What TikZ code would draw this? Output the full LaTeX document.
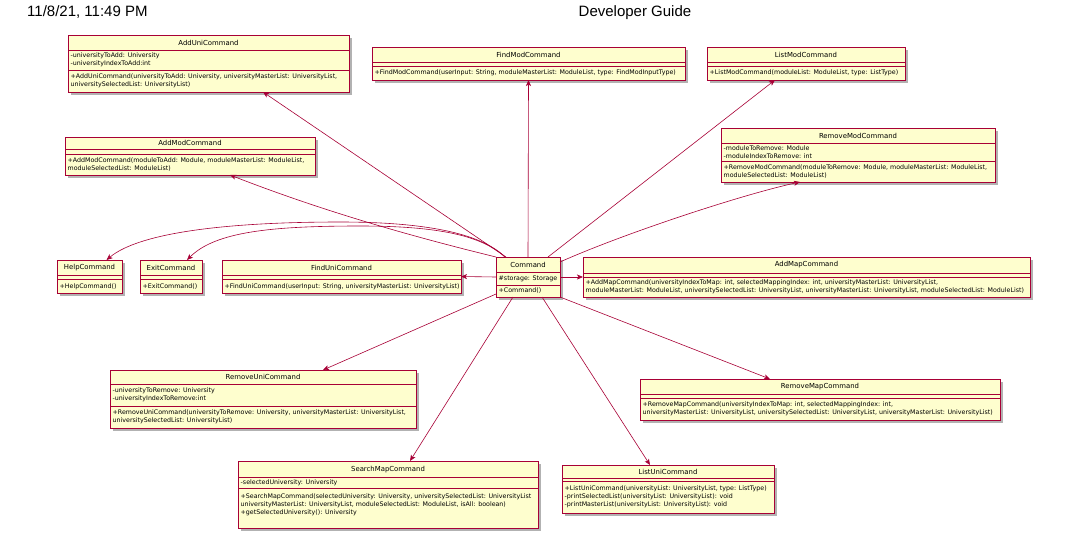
\documentclass[tikz,border=0pt]{standalone}
\usepackage{fontspec}
\setmainfont{Liberation Sans}
\newfontfamily\umlfont{DejaVu Sans}
\usetikzlibrary{arrows.meta,shadows,fit}
\definecolor{umlred}{HTML}{A80036}
\definecolor{umlfill}{HTML}{FEFECE}
\tikzset{
  cls/.style={draw=umlred, fill=umlfill, line width=0.8pt, rectangle, inner sep=0pt, outer sep=0pt,
    drop shadow={shadow xshift=2.5pt, shadow yshift=-2.5pt, fill=black, opacity=0.3}},
  ttl/.style={font=\umlfont\fontsize{6.9}{8}\selectfont, inner sep=0pt},
  mem/.style={font=\umlfont\fontsize{6.3}{8}\selectfont, anchor=west, align=left, inner sep=0pt},
  divl/.style={draw=umlred, line width=0.8pt},
  conn/.style={draw=umlred, line width=0.6pt, -{Stealth[length=6pt,width=5pt,inset=1.5pt]}},
  hdr/.style={font=\fontsize{15}{15}\selectfont, inner sep=0pt}
}
\begin{document}
\begin{tikzpicture}[x=1pt,y=-1pt]
\fill[white] (0,0) rectangle (1073,555);
\useasboundingbox (0,0) rectangle (1073,555);

% header
\node[hdr, anchor=west] (date) at (27,12.5) {11/8/21, 11:49 PM};
\node[hdr] (doctitle) at (635,12.5) {Developer Guide};

% AddUniCommand
\node[cls, fit={(68,35) (349,92)}] (adduni) {};
\node[ttl] (adduni-t) at (208.5,42.5) {AddUniCommand};
\draw[divl] (68,50) -- (349,50);
\draw[divl] (68,70) -- (349,70);
\node[mem] (adduni-a) at (70.5,60) {-universityToAdd: University\\-universityIndexToAdd:int};
\node[mem] (adduni-m) at (70.5,81) {+AddUniCommand(universityToAdd: University, universityMasterList: UniversityList,\\universitySelectedList: UniversityList)};

% AddModCommand
\node[cls, fit={(65,137) (315,175)}] (addmod) {};
\node[ttl] (addmod-t) at (190,143) {AddModCommand};
\draw[divl] (65,149) -- (315,149);
\draw[divl] (65,154) -- (315,154);
\node[mem] (addmod-m) at (67.5,164.5) {+AddModCommand(moduleToAdd: Module, moduleMasterList: ModuleList,\\moduleSelectedList: ModuleList)};

% FindModCommand
\node[cls, fit={(372,47) (685,80)}] (findmod) {};
\node[ttl] (findmod-t) at (528.5,55) {FindModCommand};
\draw[divl] (372,62) -- (685,62);
\draw[divl] (372,66) -- (685,66);
\node[mem] (findmod-m) at (374.5,73) {+FindModCommand(userInput: String, moduleMasterList: ModuleList, type: FindModInputType)};

% ListModCommand
\node[cls, fit={(707,47) (905,80)}] (listmod) {};
\node[ttl] (listmod-t) at (806,55) {ListModCommand};
\draw[divl] (707,62) -- (905,62);
\draw[divl] (707,66) -- (905,66);
\node[mem] (listmod-m) at (709.5,73) {+ListModCommand(moduleList: ModuleList, type: ListType)};

% RemoveModCommand
\node[cls, fit={(721,128) (995,182)}] (remmod) {};
\node[ttl] (remmod-t) at (858,136) {RemoveModCommand};
\draw[divl] (721,143) -- (995,143);
\draw[divl] (721,161) -- (995,161);
\node[mem] (remmod-a) at (723.5,152) {-moduleToRemove: Module\\-moduleIndexToRemove: int};
\node[mem] (remmod-m) at (723.5,171.5) {+RemoveModCommand(moduleToRemove: Module, moduleMasterList: ModuleList,\\moduleSelectedList: ModuleList)};

% Command
\node[cls, fit={(496,257) (560,297)}] (cmd) {};
\node[ttl] (cmd-t) at (528,264.5) {Command};
\draw[divl] (496,272) -- (560,272);
\draw[divl] (496,285) -- (560,285);
\node[mem] (cmd-a) at (498.5,278.5) {\#storage: Storage};
\node[mem] (cmd-m) at (498.5,291) {+Command()};

% HelpCommand
\node[cls, fit={(57,260) (122,293)}] (help) {};
\node[ttl] (help-t) at (89.5,268) {HelpCommand};
\draw[divl] (57,275) -- (122,275);
\draw[divl] (57,279) -- (122,279);
\node[mem] (help-m) at (59.5,286.5) {+HelpCommand()};

% ExitCommand
\node[cls, fit={(140,260) (202,293)}] (exit) {};
\node[ttl] (exit-t) at (171,268) {ExitCommand};
\draw[divl] (140,275) -- (202,275);
\draw[divl] (140,279) -- (202,279);
\node[mem] (exit-m) at (142.5,286.5) {+ExitCommand()};

% FindUniCommand
\node[cls, fit={(222,260) (461,293)}] (finduni) {};
\node[ttl] (finduni-t) at (341.5,268) {FindUniCommand};
\draw[divl] (222,275) -- (461,275);
\draw[divl] (222,279) -- (461,279);
\node[mem] (finduni-m) at (224.5,286.5) {+FindUniCommand(userInput: String, universityMasterList: UniversityList)};

% AddMapCommand
\node[cls, fit={(583,257) (1030,297)}] (addmap) {};
\node[ttl] (addmap-t) at (806.5,265) {AddMapCommand};
\draw[divl] (583,273) -- (1030,273);
\draw[divl] (583,277) -- (1030,277);
\node[mem] (addmap-m) at (585.5,287) {+AddMapCommand(universityIndexToMap: int, selectedMappingIndex: int, universityMasterList: UniversityList,\\moduleMasterList: ModuleList, universitySelectedList: UniversityList, universityMasterList: UniversityList, moduleSelectedList: ModuleList)};

% RemoveUniCommand
\node[cls, fit={(110,370) (416,428)}] (remuni) {};
\node[ttl] (remuni-t) at (263,377) {RemoveUniCommand};
\draw[divl] (110,384) -- (416,384);
\draw[divl] (110,406) -- (416,406);
\node[mem] (remuni-a) at (112.5,395) {-universityToRemove: University\\-universityIndexToRemove:int};
\node[mem] (remuni-m) at (112.5,417) {+RemoveUniCommand(universityToRemove: University, universityMasterList: UniversityList,\\universitySelectedList: UniversityList)};

% RemoveMapCommand
\node[cls, fit={(640,379) (1000,420)}] (remmap) {};
\node[ttl] (remmap-t) at (820,387) {RemoveMapCommand};
\draw[divl] (640,394) -- (1000,394);
\draw[divl] (640,398) -- (1000,398);
\node[mem] (remmap-m) at (642.5,408.5) {+RemoveMapCommand(universityIndexToMap: int, selectedMappingIndex: int,\\universityMasterList: UniversityList, universitySelectedList: UniversityList, universityMasterList: UniversityList)};

% SearchMapCommand
\node[cls, fit={(238,461) (538,528)}] (searchmap) {};
\node[ttl] (searchmap-t) at (388,469.5) {SearchMapCommand};
\draw[divl] (238,477) -- (538,477);
\draw[divl] (238,488) -- (538,488);
\node[mem] (searchmap-a) at (240.5,482.5) {-selectedUniversity: University};
\node[mem] (searchmap-m) at (240.5,504.5) {+SearchMapCommand(selectedUniversity: University, universitySelectedList: UniversityList\\universityMasterList: UniversityList, moduleSelectedList: ModuleList, isAll: boolean)\\+getSelectedUniversity(): University};

% ListUniCommand
\node[cls, fit={(562,465) (774,513)}] (listuni) {};
\node[ttl] (listuni-t) at (668,471.5) {ListUniCommand};
\draw[divl] (562,478) -- (774,478);
\draw[divl] (562,481) -- (774,481);
\node[mem] (listuni-m) at (564.5,497) {+ListUniCommand(universityList: UniversityList, type: ListType)\\-printSelectedList(universityList: UniversityList): void\\-printMasterList(universityList: UniversityList): void};

% connectors
\draw[conn] ([xshift=-22pt]cmd.north) -- ([xshift=54.5pt]adduni.south);
\draw[conn] (cmd.north west) .. controls (406,235) and (320,210) .. ([xshift=40pt]addmod.south);
\draw[conn] ([xshift=-23pt]cmd.north) .. controls (480,232) and (420,222) .. (340,222) .. controls (230,222) and (140,232) .. ([xshift=17pt]help.north);
\draw[conn] ([xshift=-23pt]cmd.north) .. controls (482,236) and (440,226) .. (360,226) .. controls (270,226) and (215,232) .. ([xshift=16pt]exit.north);
\draw[conn] (cmd.north) -- (findmod.south);
\draw[conn] ([xshift=20pt]cmd.north) -- ([xshift=-31pt]listmod.south);
\draw[conn] ([yshift=15pt]cmd.east) .. controls (620,235) and (740,195) .. ([xshift=-58pt]remmod.south);
\draw[conn] (cmd.west) -- (finduni.east);
\draw[conn] (cmd.east) -- (addmap.west);
\draw[conn] ([yshift=3pt]cmd.south west) -- ([xshift=60pt]remuni.north);
\draw[conn] ([xshift=-15pt]cmd.south) -- ([xshift=22pt]searchmap.north);
\draw[conn] ([xshift=14pt]cmd.south) -- ([xshift=-18pt]listuni.north);
\draw[conn] (cmd.south east) -- ([xshift=-50pt]remmap.north);
\end{tikzpicture}
\end{document}
